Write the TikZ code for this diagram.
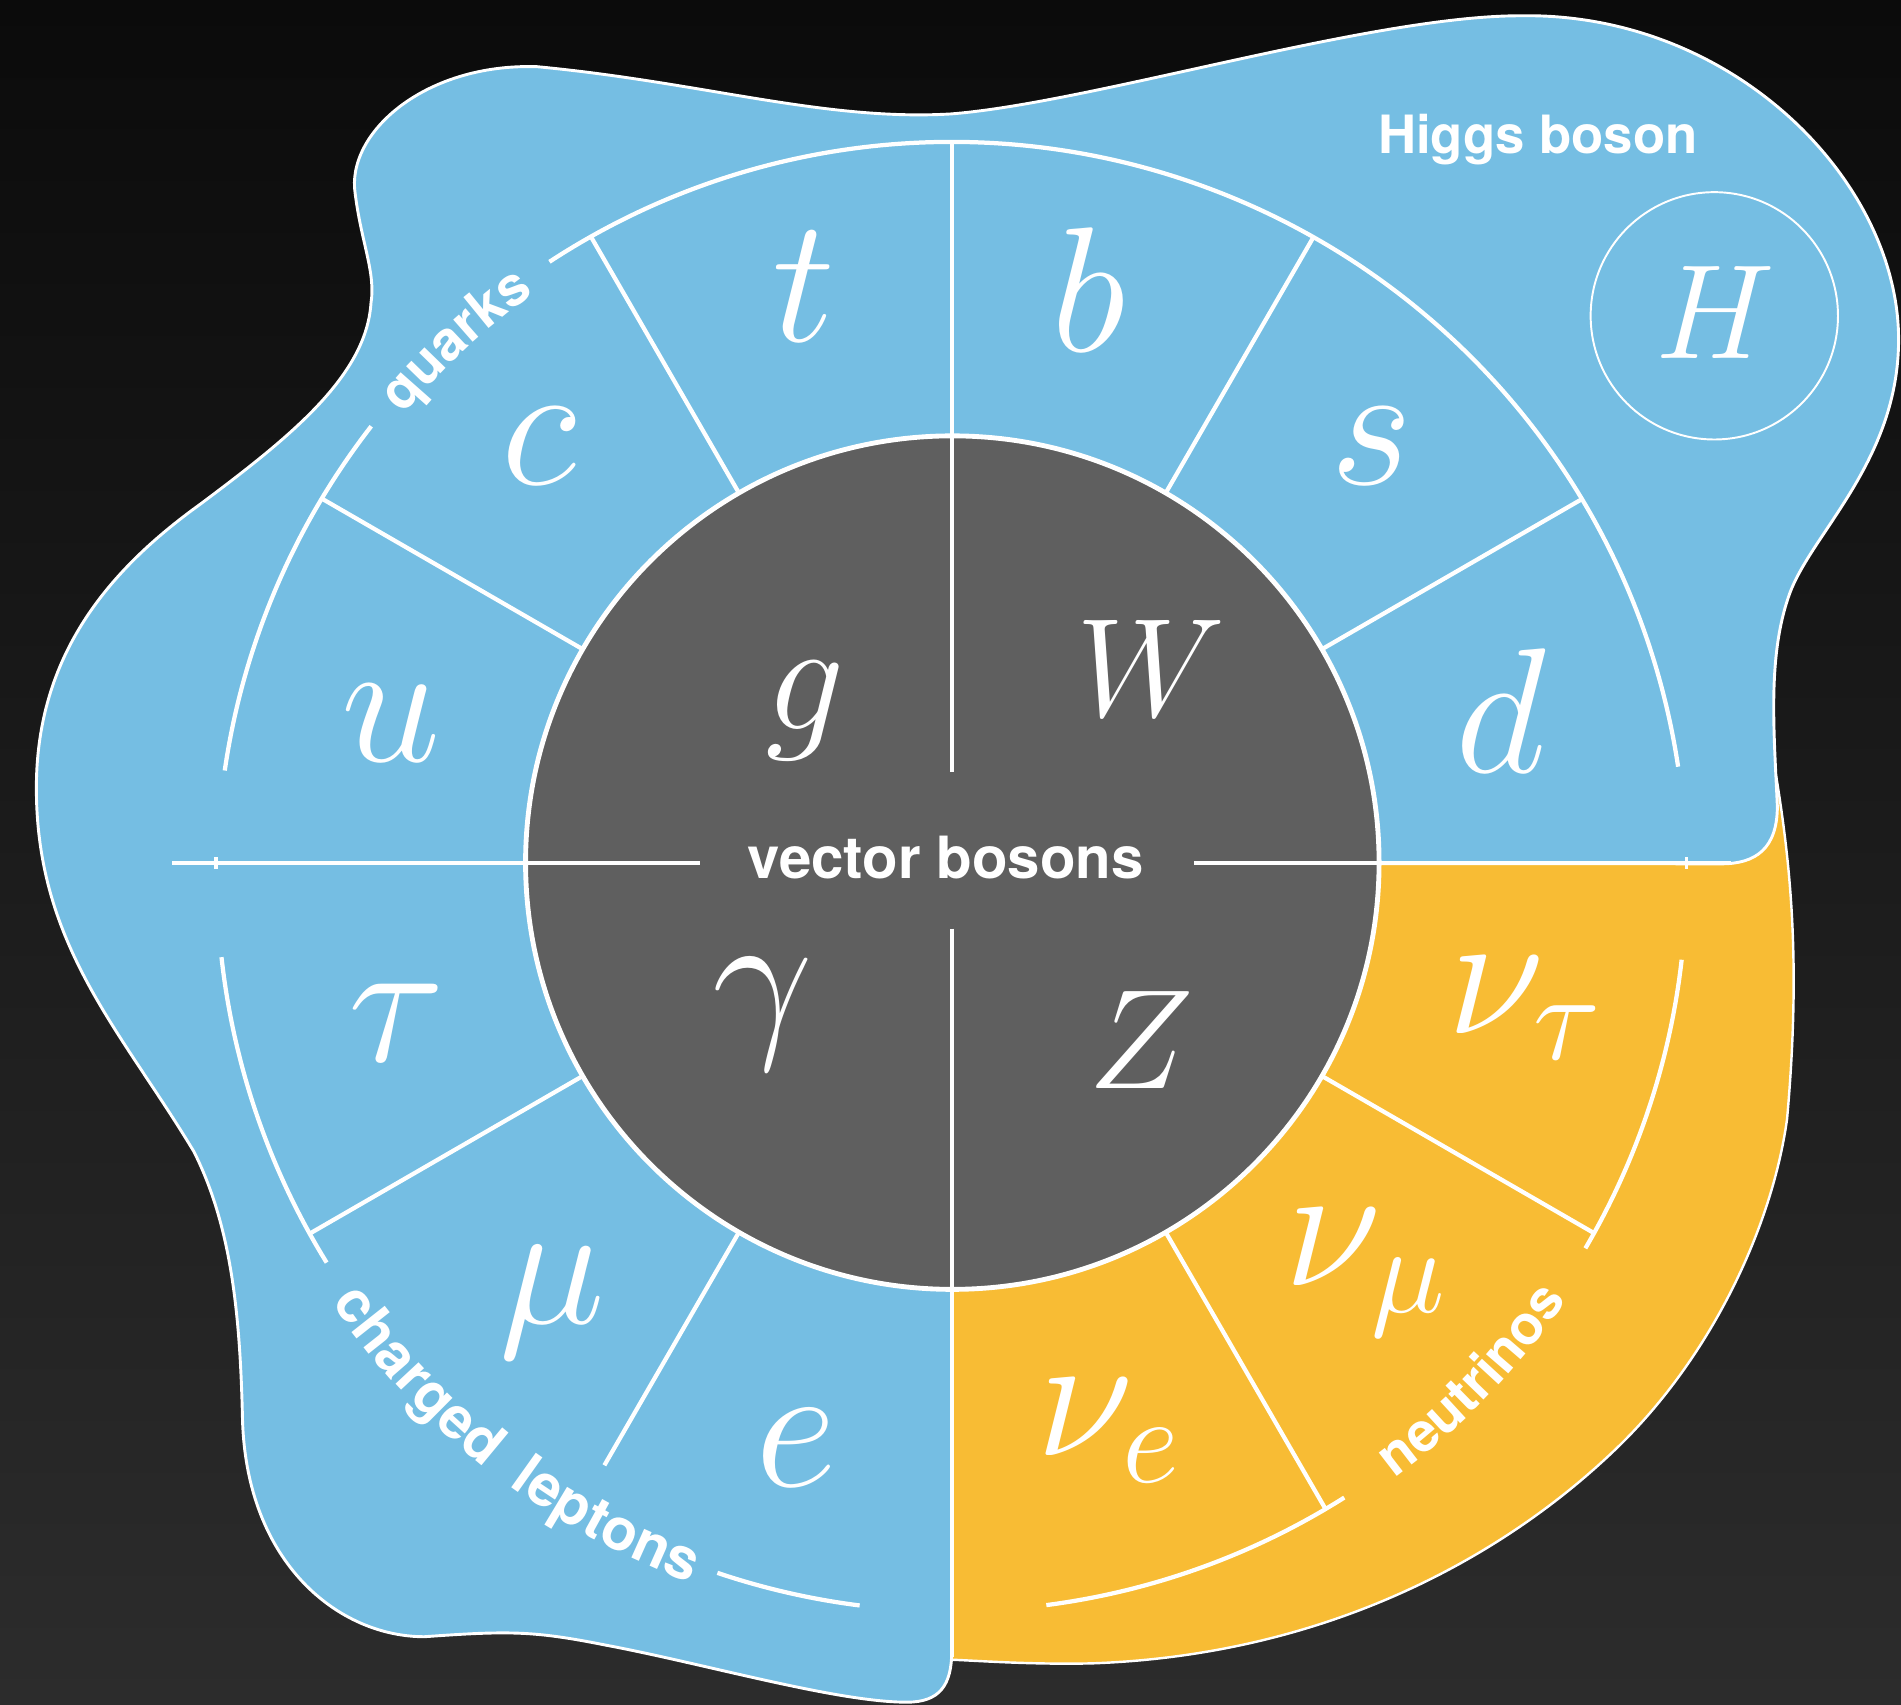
\documentclass[tikz,border=0pt]{standalone}
\usepackage{fix-cm}
\usepackage{fontspec}
\newfontfamily\heros{TeX Gyre Heros}
\usetikzlibrary{calc,decorations.text}
\definecolor{bblue}{RGB}{117,190,227}
\definecolor{byellow}{RGB}{248,188,52}
\definecolor{dgray}{RGB}{95,95,95}
\definecolor{bgtop}{RGB}{11,11,11}
\definecolor{bgbot}{RGB}{44,44,44}
\newcommand\mletter[2]{\fontsize{#1}{#1}\selectfont$#2$}
\newcommand\arcfontA{\heros\bfseries\fontsize{45}{45}\selectfont}
\newcommand\arcfontB{\heros\bfseries\fontsize{48}{48}\selectfont}
\begin{document}
\begin{tikzpicture}[x=1pt,y=-1pt,
  ring/.style={draw=white, line width=3.5pt},
  blob/.style={draw=white, line width=2.4pt},
  mlabel/.style={text=white, inner sep=0pt},
  slabel/.style={text=white, inner sep=0pt, font=\heros\bfseries}]
\shade[top color=bgtop, bottom color=bgbot] (0,0) rectangle (1568,1406);
\useasboundingbox (0,0) rectangle (1568,1406);
\coordinate (Oi) at (785.5,711.5);
\coordinate (Oo) at (785,723);
% yellow blob
\fill[byellow] (786,712) -- (1420,712) -- (1420,630) -- (1462,630) -- (1465,640)
  .. controls (1478,720) and (1485,800) .. (1474,923)
  .. controls (1462,1010) and (1413,1117.5) .. (1334,1194)
  .. controls (1245,1280) and (1100,1365) .. (900,1372)
  .. controls (850,1373) and (810,1370) .. (786,1369) -- cycle;
\draw[white, line width=2pt] (1465,640)
  .. controls (1478,720) and (1485,800) .. (1474,923)
  .. controls (1462,1010) and (1413,1117.5) .. (1334,1194)
  .. controls (1245,1280) and (1100,1365) .. (900,1372)
  .. controls (850,1373) and (810,1370) .. (786,1369);
% blue blob
\path[blob, fill=bblue] (785,712) -- (1420,712.5)
  .. controls (1448,712.5) and (1466,700) .. (1466,665)
  .. controls (1463,600) and (1458,540) .. (1476,490)
  .. controls (1494,440) and (1566,380) .. (1566,280)
  .. controls (1566,150) and (1430,10) .. (1254,13)
  .. controls (1130,13) and (900,85) .. (784,94)
  .. controls (680,100) and (580,68) .. (443,55)
  .. controls (350,52) and (285,110) .. (293,160)
  .. controls (298,200) and (310,225) .. (306,250)
  .. controls (302,310) and (240,360) .. (165,416)
  .. controls (90,470) and (30,540) .. (30,650)
  .. controls (30,780) and (100,850) .. (160,950)
  .. controls (190,1010) and (198,1080) .. (200,1170)
  .. controls (203,1290) and (280,1350) .. (350,1350)
  .. controls (420,1345) and (440,1345) .. (500,1357)
  .. controls (580,1372) and (690,1404) .. (748,1404)
  .. controls (775,1404) and (785,1390) .. (785,1362) -- cycle;
% inner circle
\draw[fill=dgray, draw=white, line width=4pt] (Oi) circle[radius=352];
% axes
\draw[ring] (785,117) -- (785,637);
\draw[ring] (785,766) -- (785,1367);
\draw[ring] (142,712) -- (577,712);
\draw[ring] (985,712) -- (1428,712);
\draw[white, line width=3pt] (178,707) -- (178,717);
\draw[white, line width=3pt] (1391,707) -- (1391,717);
% outer arcs
\draw[ring] ($(Oo)+(-8.6:606)$) arc[start angle=-8.6, end angle=-123.2, radius=606];
\draw[ring] ($(Oo)+(-142.2:606)$) arc[start angle=-142.2, end angle=-171.7, radius=606];
\draw[ring] ($(Oo)+(-186.3:606)$) arc[start angle=-186.3, end angle=-211.7, radius=606];
\draw[ring] ($(Oo)+(-251.4:606)$) arc[start angle=-251.4, end angle=-262.8, radius=606];
\draw[ring] ($(Oo)+(-277.4:606)$) arc[start angle=-277.4, end angle=-302.3, radius=606];
\draw[ring] ($(Oo)+(-329.6:606)$) arc[start angle=-329.6, end angle=-353.5, radius=606];
% spokes
\foreach \a/\r in {30/600, 60/595.6, 120/595.6, 150/600, 210/612, 240/574, 300/616.4, 330/612}
  \draw[ring] ($(Oi)+(-\a:352)$) -- ($(Oi)+(-\a:\r)$);
% Higgs
\draw[white, line width=1.6pt] (1414,260.5) circle[radius=102];
\node[mlabel] (H) at (1415,258) {\mletter{111}{H}};
\node[slabel, anchor=base west] (hb) at (1136.6,126.5) {\fontsize{43.5}{43.5}\selectfont Higgs boson};
\node[slabel, anchor=base] (vb) at (780,725) {\fontsize{48}{48}\selectfont vector bosons};
% particles
\node[mlabel] (t) at (663,236.5) {\mletter{147}{t}};
\node[mlabel] (b) at (898,238.6) {\mletter{147}{b}};
\node[mlabel] (c) at (445,368) {\mletter{147}{c}};
\node[mlabel] (s) at (1131,368) {\mletter{147}{s}};
\node[mlabel] (u) at (322.5,596.5) {\mletter{147}{u}};
\node[mlabel] (d) at (1237.6,586) {\mletter{147}{d}};
\node[mlabel] (g) at (664,586) {\mletter{130}{g}};
\node[mlabel] (W) at (949.6,551) {\mletter{116}{W}};
\node[mlabel] (gam) at (629,836.5) {\mletter{148}{\gamma}};
\node[mlabel] (Z) at (941,858) {\mletter{117}{Z}};
\node[mlabel] (tau) at (327,843.5) {\mletter{148}{\tau}};
\node[mlabel] (mu) at (455.5,1074) {\mletter{148}{\mu}};
\node[mlabel] (e) at (657,1194.5) {\mletter{148}{e}};
\node[mlabel] (nut) at (1257.5,831.6) {\mletter{147}{\nu_\tau}};
\node[mlabel] (num) at (1126,1050) {\mletter{147}{\nu_\mu}};
\node[mlabel] (nue) at (914,1180) {\mletter{147}{\nu_e}};
% arc labels
\path[decorate, decoration={text along path, text={|\arcfontA|quarks}, text align=center, text color=white}] ($(Oo)+(-142:591.5)$) arc[start angle=-142, end angle=-123.4, radius=591.5];
\path[decorate, decoration={text along path, text={|\arcfontB|charged}, text align=center, text color=white}] ($(Oo)+(-213:621)$) arc[start angle=-213, end angle=-233.2, radius=621];
\path[decorate, decoration={text along path, text={|\arcfontB|leptons}, text align=center, text color=white}] ($(Oo)+(-232.2:621)$) arc[start angle=-232.2, end angle=-251.5, radius=621];
\path[decorate, decoration={text along path, text={|\arcfontA|neutrinos}, text align=center, text color=white}] ($(Oo)+(-305:616)$) arc[start angle=-305, end angle=-326.8, radius=616];
\end{tikzpicture}
\end{document}
